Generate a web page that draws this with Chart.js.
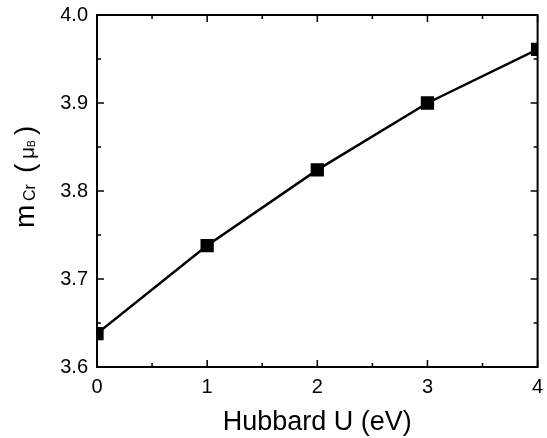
<!DOCTYPE html>
<html>
<head>
<meta charset="utf-8">
<style>
  html, body { margin: 0; padding: 0; background: #fff; }
</style>
<script src="https://cdn.jsdelivr.net/npm/chart.js@4"></script>
</head>
<body>
<canvas id="chart" width="547" height="438"></canvas>
<script>
const hubbardU = [0, 1, 2, 3, 4];
const moment = [3.638, 3.738, 3.824, 3.900, 3.961];
const xTicks = [0, 1, 2, 3, 4];
const yTicks = [3.6, 3.7, 3.8, 3.9, 4.0];

const FONT = '"Liberation Sans", Arial, sans-serif';

// frame, inward ticks (major + minor) and y title with subscripts
const framePlugin = {
    id: 'frame',
    afterDraw(chart) {
        const ctx = chart.ctx;
        const a = chart.chartArea;
        const xs = chart.scales.x;
        const ys = chart.scales.y;
        ctx.save();
        ctx.strokeStyle = '#000';
        ctx.lineWidth = 2;
        ctx.strokeRect(a.left, a.top, a.right - a.left, a.bottom - a.top);

        ctx.lineWidth = 1.5;
        ctx.beginPath();
        for (let i = 0; i < xTicks.length; i++) {
            const px = xs.getPixelForValue(xTicks[i]);
            ctx.moveTo(px, a.bottom); ctx.lineTo(px, a.bottom - 7);
            ctx.moveTo(px, a.top); ctx.lineTo(px, a.top + 7);
            if (i < xTicks.length - 1) {
                const mx = xs.getPixelForValue((xTicks[i] + xTicks[i + 1]) / 2);
                ctx.moveTo(mx, a.bottom); ctx.lineTo(mx, a.bottom - 4);
                ctx.moveTo(mx, a.top); ctx.lineTo(mx, a.top + 4);
            }
        }
        for (let i = 0; i < yTicks.length; i++) {
            const py = ys.getPixelForValue(yTicks[i]);
            ctx.moveTo(a.left, py); ctx.lineTo(a.left + 7, py);
            ctx.moveTo(a.right, py); ctx.lineTo(a.right - 7, py);
            if (i < yTicks.length - 1) {
                const my = ys.getPixelForValue((yTicks[i] + yTicks[i + 1]) / 2);
                ctx.moveTo(a.left, my); ctx.lineTo(a.left + 4, my);
                ctx.moveTo(a.right, my); ctx.lineTo(a.right - 4, my);
            }
        }
        ctx.stroke();

        // y title: m_Cr (μ_B), pieces placed along the rotated baseline
        ctx.translate(34, 228);
        ctx.rotate(-Math.PI / 2);
        ctx.fillStyle = '#000';
        ctx.textBaseline = 'alphabetic';
        ctx.textAlign = 'left';
        const parts = [
            ['m', 28, 0, 0],
            ['Cr', 16, 27, 1],
            ['(', 28, 55, 0],
            ['\u03bc', 21, 69, 0],
            ['B', 10, 81, 1],
            [')', 28, 93, 0]
        ];
        for (const [t, size, x, dy] of parts) {
            ctx.font = size + 'px ' + FONT;
            ctx.fillText(t, x, dy);
        }
        ctx.restore();
    }
};

new Chart(document.getElementById('chart'), {
    type: 'line',
    data: {
        datasets: [{
            data: hubbardU.map((u, i) => ({ x: u, y: moment[i] })),
            borderColor: '#000',
            backgroundColor: '#000',
            borderWidth: 2.5,
            pointStyle: 'rect',
            pointRadius: 9.4,
            pointBorderWidth: 0,
            pointBackgroundColor: '#000',
            tension: 0,
            clip: 0
        }]
    },
    options: {
        responsive: false,
        animation: false,
        layout: { padding: { left: 0, right: 5, top: 15, bottom: 0 } },
        plugins: {
            legend: { display: false },
            tooltip: { enabled: false }
        },
        scales: {
            x: {
                type: 'linear',
                min: 0,
                max: 4,
                afterBuildTicks: s => { s.ticks = xTicks.map(v => ({ value: v })); },
                afterFit: s => { s.height = 71; s.paddingLeft = 0; s.paddingRight = 0; },
                grid: { display: false, drawTicks: false },
                border: { display: false },
                ticks: {
                    color: '#000',
                    padding: 8,
                    font: { family: FONT, size: 20 },
                    maxRotation: 0,
                    callback: v => String(v)
                },
                title: {
                    display: true,
                    text: 'Hubbard U (eV)',
                    color: '#000',
                    font: { family: FONT, size: 27, lineHeight: 1 },
                    padding: { top: 0, bottom: 2 }
                }
            },
            y: {
                type: 'linear',
                min: 3.6,
                max: 4.0,
                afterBuildTicks: s => { s.ticks = yTicks.map(v => ({ value: v })); },
                afterFit: s => { s.width = 97; s.paddingTop = 0; s.paddingBottom = 0; },
                grid: { display: false, drawTicks: false },
                border: { display: false },
                ticks: {
                    color: '#000',
                    padding: 9,
                    font: { family: FONT, size: 20 },
                    callback: v => v.toFixed(1)
                }
            }
        }
    },
    plugins: [framePlugin]
});
</script>
</body>
</html>
